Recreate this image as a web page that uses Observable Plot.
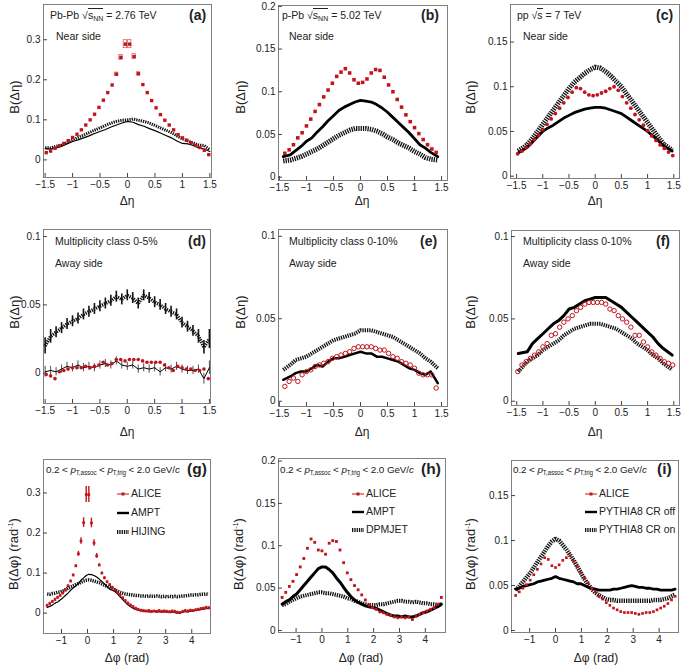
<!DOCTYPE html>
<html><head><meta charset="utf-8">
<script src="https://cdn.jsdelivr.net/npm/d3@7"></script>
<script src="https://cdn.jsdelivr.net/npm/@observablehq/plot@0.6"></script>
<style>
body{margin:0;background:#fff;}
#root{position:relative;width:685px;height:665px;overflow:hidden;font-family:"Liberation Sans",Arial,sans-serif;color:#222}
.p{position:absolute}
.t{position:absolute;white-space:nowrap;font-size:10.5px;line-height:14px}
.b{font-weight:bold;font-size:14px}
.bb{font-weight:bold;font-size:15.5px}
.s{font-size:9.9px;letter-spacing:-0.1px}
.s sub{font-size:6.3px}
.ov{border-top:1px solid #222;padding-top:0px}
.rot{position:absolute;white-space:nowrap;font-size:13px;transform:translate(-50%,-50%) rotate(-90deg)}
.xl{position:absolute;white-space:nowrap;font-size:12px;transform:translate(-50%,-50%)}
sub{font-size:7px;vertical-align:-2px}
sup{font-size:7px;vertical-align:5px}
.sw{display:inline-block;vertical-align:middle;margin-right:2px}
</style></head>
<body><div id="root"></div>
<script>
// ---------- Δη grids ----------
const etaA = [-1.48,-1.40,-1.32,-1.24,-1.16,-1.08,-1.00,-0.92,-0.84,-0.76,-0.68,-0.60,-0.52,-0.44,-0.36,-0.28,-0.20,-0.12,-0.04,0.04,0.12,0.20,0.28,0.36,0.44,0.52,0.60,0.68,0.76,0.84,0.92,1.00,1.08,1.16,1.24,1.32,1.40,1.48];
const etaB = [-1.40,-1.32,-1.24,-1.16,-1.08,-1.00,-0.92,-0.84,-0.76,-0.68,-0.60,-0.52,-0.44,-0.36,-0.28,-0.20,-0.12,-0.04,0.04,0.12,0.20,0.28,0.36,0.44,0.52,0.60,0.68,0.76,0.84,0.92,1.00,1.08,1.16,1.24,1.32,1.40];
const etaL = [-1.5,-1.4,-1.3,-1.2,-1.1,-1.0,-0.9,-0.8,-0.7,-0.6,-0.5,-0.4,-0.3,-0.2,-0.1,0,0.1,0.2,0.3,0.4,0.5,0.6,0.7,0.8,0.9,1.0,1.1,1.2,1.3,1.4,1.5];
const etaM = [-1.43,-1.3,-1.2,-1.1,-1.0,-0.9,-0.8,-0.7,-0.6,-0.5,-0.4,-0.3,-0.2,-0.1,0,0.1,0.2,0.3,0.4,0.5,0.6,0.7,0.8,0.9,1.0,1.1,1.2,1.3,1.43];
const etaN = [-1.47,-1.3,-1.2,-1.1,-1.0,-0.9,-0.8,-0.7,-0.6,-0.5,-0.4,-0.3,-0.2,-0.1,0,0.1,0.2,0.3,0.4,0.5,0.6,0.7,0.8,0.9,1.0,1.1,1.2,1.3,1.47];

// (a) Pb-Pb near side
const aAliceY = [0.018,0.022,0.029,0.035,0.041,0.048,0.056,0.064,0.075,0.087,0.100,0.114,0.131,0.149,0.168,0.187,0.214,0.256,0.289,0.289,0.258,0.215,0.188,0.168,0.148,0.130,0.113,0.099,0.087,0.075,0.063,0.055,0.049,0.043,0.036,0.031,0.024,0.013];
const aAliceE = [0.003,0.003,0.003,0.003,0.003,0.003,0.003,0.003,0.003,0.003,0.003,0.003,0.003,0.003,0.003,0.003,0.004,0.006,0.010,0.010,0.006,0.004,0.003,0.003,0.003,0.003,0.003,0.003,0.003,0.003,0.003,0.003,0.003,0.003,0.003,0.003,0.003,0.003];
const aAmptY = [0.028,0.027,0.030,0.034,0.040,0.046,0.050,0.055,0.060,0.066,0.071,0.076,0.082,0.087,0.092,0.096,0.094,0.088,0.084,0.078,0.073,0.067,0.061,0.055,0.047,0.041,0.040,0.036,0.030,0.027,0.021];
const aHijY = [0.030,0.030,0.034,0.037,0.043,0.050,0.056,0.062,0.068,0.074,0.080,0.086,0.092,0.096,0.099,0.100,0.102,0.099,0.096,0.092,0.086,0.080,0.074,0.068,0.060,0.053,0.047,0.042,0.037,0.036,0.025];
// (b) p-Pb near side
const bAliceY = [0.028,0.032,0.038,0.046,0.052,0.060,0.068,0.077,0.085,0.094,0.102,0.110,0.118,0.123,0.127,0.122,0.114,0.110,0.111,0.115,0.122,0.126,0.125,0.117,0.108,0.100,0.091,0.082,0.073,0.065,0.058,0.051,0.044,0.038,0.033,0.029];
const bAmptY = [0.024,0.026,0.031,0.036,0.042,0.046,0.053,0.059,0.066,0.072,0.078,0.082,0.085,0.088,0.090,0.089,0.088,0.085,0.081,0.076,0.070,0.064,0.058,0.052,0.045,0.038,0.034,0.029,0.024];
const bDpmY = [0.019,0.020,0.022,0.024,0.027,0.030,0.033,0.037,0.041,0.045,0.049,0.052,0.055,0.057,0.057,0.057,0.056,0.054,0.051,0.047,0.044,0.040,0.037,0.034,0.030,0.027,0.023,0.021,0.020];
// (c) pp near side
const cAliceY = [0.025,0.028,0.032,0.036,0.041,0.046,0.052,0.058,0.064,0.070,0.076,0.082,0.088,0.094,0.099,0.098,0.094,0.091,0.090,0.091,0.093,0.095,0.098,0.100,0.096,0.089,0.082,0.076,0.069,0.063,0.057,0.051,0.045,0.040,0.035,0.031,0.027,0.023];
const cOffY = [0.026,0.032,0.038,0.044,0.050,0.054,0.057,0.061,0.065,0.068,0.071,0.073,0.075,0.076,0.077,0.077,0.076,0.074,0.072,0.070,0.066,0.062,0.058,0.054,0.050,0.045,0.040,0.034,0.028];
const cOnY = [0.028,0.035,0.042,0.050,0.058,0.066,0.074,0.082,0.090,0.098,0.105,0.110,0.115,0.119,0.122,0.121,0.117,0.112,0.106,0.100,0.092,0.084,0.076,0.068,0.060,0.052,0.044,0.036,0.029];
// (d) Pb-Pb away side
const dAliceY = [-0.001,-0.002,-0.004,0.001,0.002,0.003,0.004,0.004,0.004,0.005,0.004,0.005,0.006,0.008,0.006,0.007,0.010,0.010,0.009,0.010,0.010,0.010,0.009,0.008,0.008,0.008,0.008,0.006,0.004,0.002,0.005,0.004,0.003,0.003,0.002,0.002,0.003,-0.004];
const dHijY = [0.020,0.027,0.030,0.033,0.036,0.038,0.040,0.043,0.045,0.047,0.049,0.051,0.053,0.056,0.054,0.057,0.055,0.051,0.057,0.055,0.052,0.050,0.047,0.045,0.043,0.037,0.034,0.031,0.027,0.019,0.025];
const dHijE = [0.006,0.005,0.004,0.004,0.004,0.004,0.004,0.004,0.004,0.004,0.004,0.004,0.004,0.004,0.004,0.004,0.004,0.004,0.004,0.004,0.004,0.004,0.004,0.004,0.004,0.004,0.004,0.004,0.005,0.005,0.007];
const dAmptY = [0.001,0.002,0.001,0.003,0.005,0.004,0.006,0.004,0.005,0.004,0.006,0.007,0.006,0.009,0.006,0.005,0.006,0.003,0.004,0.003,0.004,0.001,0.004,0.003,0.005,0.003,0.002,0.002,0.003,-0.004,0.004];
const dAmptE = [0.004,0.003,0.003,0.003,0.003,0.003,0.003,0.003,0.003,0.003,0.003,0.003,0.003,0.003,0.003,0.003,0.003,0.003,0.003,0.003,0.003,0.003,0.003,0.003,0.003,0.003,0.003,0.003,0.003,0.004,0.005];
// (e) p-Pb away side
const eAliceY = [0.009,0.012,0.014,0.012,0.016,0.018,0.019,0.021,0.022,0.023,0.024,0.026,0.027,0.028,0.029,0.030,0.032,0.033,0.033,0.033,0.033,0.032,0.031,0.031,0.029,0.027,0.026,0.024,0.023,0.022,0.020,0.017,0.016,0.016,0.016,0.008];
const eAmptY = [0.013,0.015,0.017,0.018,0.018,0.020,0.022,0.021,0.024,0.026,0.026,0.027,0.028,0.029,0.030,0.029,0.029,0.027,0.027,0.026,0.025,0.024,0.022,0.020,0.019,0.017,0.016,0.018,0.011];
const eDpmY = [0.019,0.022,0.025,0.026,0.027,0.029,0.031,0.033,0.035,0.037,0.038,0.039,0.040,0.041,0.043,0.043,0.043,0.042,0.041,0.040,0.039,0.037,0.035,0.033,0.031,0.029,0.026,0.024,0.020];
// (f) pp away side
const fAliceY = [0.018,0.022,0.024,0.026,0.028,0.030,0.033,0.035,0.040,0.041,0.045,0.048,0.050,0.052,0.055,0.057,0.059,0.060,0.060,0.060,0.060,0.059,0.056,0.055,0.052,0.050,0.048,0.045,0.040,0.040,0.036,0.033,0.030,0.028,0.026,0.024,0.023,0.022];
const fOffY = [0.029,0.030,0.035,0.038,0.041,0.044,0.047,0.049,0.052,0.056,0.057,0.059,0.061,0.062,0.063,0.063,0.063,0.061,0.059,0.057,0.054,0.051,0.048,0.045,0.042,0.039,0.035,0.032,0.028];
const fOnY = [0.018,0.024,0.026,0.028,0.031,0.033,0.035,0.037,0.040,0.042,0.044,0.045,0.046,0.047,0.047,0.047,0.046,0.045,0.044,0.042,0.040,0.038,0.035,0.033,0.031,0.028,0.026,0.023,0.019];

// ---------- Δφ grids ----------
const phiG = [-1.55,-1.45,-1.35,-1.25,-1.15,-1.05,-0.95,-0.85,-0.75,-0.65,-0.55,-0.45,-0.35,-0.25,-0.15,-0.05,0.05,0.15,0.25,0.35,0.45,0.55,0.65,0.75,0.85,0.95,1.05,1.15,1.25,1.35,1.45,1.55,1.65,1.75,1.85,1.95,2.05,2.15,2.25,2.35,2.45,2.55,2.65,2.75,2.85,2.95,3.05,3.15,3.25,3.35,3.45,3.55,3.65,3.75,3.85,3.95,4.05,4.15,4.25,4.35,4.45,4.55,4.65];
const phiH = [-1.54,-1.40,-1.26,-1.12,-0.98,-0.84,-0.70,-0.56,-0.42,-0.28,-0.14,0,0.14,0.28,0.42,0.56,0.70,0.84,0.98,1.12,1.26,1.40,1.54,1.68,1.82,1.96,2.10,2.24,2.38,2.52,2.66,2.80,2.94,3.08,3.22,3.36,3.50,3.64,3.78,3.92,4.06,4.20,4.34,4.48,4.62];
// (g) Pb-Pb
const gAliceY = [0.019,0.024,0.029,0.034,0.039,0.044,0.050,0.058,0.068,0.080,0.095,0.118,0.148,0.180,0.226,0.296,0.296,0.225,0.175,0.143,0.120,0.100,0.088,0.078,0.071,0.064,0.058,0.051,0.045,0.038,0.031,0.025,0.020,0.016,0.012,0.009,0.007,0.006,0.005,0.006,0.004,0.005,0.004,0.006,0.004,0.005,0.004,0.003,0.005,0.004,0.002,0.001,0.004,0.006,0.005,0.007,0.006,0.008,0.009,0.011,0.012,0.014,0.013];
const gAliceE = [0.003,0.003,0.003,0.003,0.003,0.003,0.003,0.003,0.003,0.003,0.003,0.003,0.006,0.008,0.012,0.020,0.020,0.012,0.008,0.006,0.003,0.003,0.003,0.003,0.003,0.003,0.003,0.003,0.003,0.003,0.003,0.003,0.003,0.003,0.003,0.003,0.003,0.003,0.003,0.003,0.003,0.003,0.003,0.003,0.003,0.003,0.003,0.003,0.003,0.003,0.003,0.003,0.003,0.003,0.003,0.003,0.003,0.003,0.003,0.003,0.003,0.003,0.003];
const gAmptY = [0.014,0.017,0.020,0.025,0.028,0.033,0.038,0.044,0.050,0.057,0.063,0.068,0.074,0.082,0.088,0.094,0.097,0.096,0.094,0.090,0.085,0.079,0.073,0.066,0.060,0.057,0.054,0.048,0.041,0.034,0.027,0.021,0.016,0.012,0.009,0.007,0.006,0.004,0.005,0.003,0.004,0.005,0.003,0.004,0.003,0.004,0.003,0.002,0.003,0.001,0.000,0.001,0.002,0.004,0.003,0.005,0.006,0.007,0.008,0.009,0.010,0.011,0.012];
const gHijY = [0.048,0.047,0.049,0.050,0.052,0.053,0.055,0.058,0.062,0.065,0.068,0.071,0.074,0.077,0.080,0.082,0.083,0.082,0.080,0.078,0.076,0.073,0.070,0.067,0.064,0.062,0.058,0.055,0.052,0.050,0.048,0.047,0.046,0.045,0.044,0.044,0.043,0.043,0.042,0.043,0.042,0.042,0.043,0.042,0.041,0.042,0.041,0.042,0.041,0.042,0.041,0.042,0.043,0.043,0.044,0.045,0.045,0.046,0.046,0.047,0.047,0.048,0.047];
// (h) p-Pb
const hAliceY = [0.039,0.045,0.052,0.058,0.066,0.075,0.085,0.097,0.108,0.104,0.095,0.094,0.090,0.103,0.106,0.105,0.095,0.080,0.068,0.060,0.053,0.048,0.042,0.036,0.030,0.027,0.025,0.022,0.021,0.019,0.018,0.016,0.015,0.016,0.015,0.016,0.013,0.017,0.019,0.021,0.023,0.025,0.027,0.031,0.039];
const hAmptY = [0.031,0.034,0.036,0.040,0.043,0.048,0.053,0.058,0.063,0.068,0.073,0.075,0.075,0.072,0.068,0.062,0.057,0.051,0.045,0.040,0.036,0.033,0.031,0.029,0.028,0.027,0.026,0.024,0.022,0.020,0.018,0.017,0.017,0.016,0.017,0.016,0.016,0.017,0.019,0.021,0.022,0.024,0.026,0.028,0.031];
const hDpmY = [0.030,0.031,0.034,0.036,0.038,0.040,0.041,0.042,0.043,0.044,0.045,0.045,0.044,0.044,0.043,0.042,0.041,0.040,0.038,0.037,0.035,0.034,0.032,0.031,0.030,0.030,0.030,0.031,0.031,0.032,0.033,0.034,0.035,0.035,0.034,0.034,0.033,0.034,0.033,0.032,0.032,0.031,0.031,0.030,0.031];
// (i) pp
const iAliceY = [0.039,0.043,0.047,0.051,0.056,0.062,0.068,0.074,0.081,0.079,0.072,0.070,0.073,0.078,0.081,0.083,0.077,0.071,0.064,0.058,0.053,0.047,0.043,0.038,0.035,0.031,0.028,0.025,0.023,0.021,0.020,0.020,0.020,0.019,0.018,0.019,0.020,0.020,0.021,0.023,0.025,0.027,0.030,0.034,0.038];
const iOffY = [0.046,0.047,0.049,0.050,0.051,0.052,0.054,0.055,0.056,0.057,0.058,0.060,0.058,0.057,0.056,0.055,0.054,0.052,0.052,0.050,0.048,0.047,0.046,0.045,0.045,0.045,0.045,0.046,0.046,0.047,0.048,0.049,0.050,0.049,0.048,0.048,0.047,0.047,0.046,0.046,0.045,0.045,0.045,0.045,0.046];
const iOnY = [0.045,0.049,0.054,0.059,0.064,0.070,0.076,0.082,0.088,0.094,0.099,0.102,0.100,0.095,0.090,0.084,0.078,0.071,0.064,0.057,0.051,0.046,0.042,0.039,0.037,0.035,0.034,0.034,0.033,0.033,0.033,0.033,0.033,0.033,0.033,0.033,0.033,0.033,0.034,0.034,0.034,0.035,0.036,0.038,0.040];

// ---------- ticks ----------
const etaTicks = [-1.5,-1,-0.5,0,0.5,1,1.5];
const phiTicks = [-1,0,1,2,3,4];

// ---------- helpers ----------
const RED = "#c0141c";
const FONT = '"Liberation Sans", Arial, sans-serif';
const root = document.getElementById("root");
const zip = (xs, ys, es) => xs.map((x, i) => ({x, y: ys[i], e: es ? es[i] : 0}));
const fmt = d => (d < 0 ? "\u2212" + (-d) : String(d));
const X = d => d.x, Y = d => d.y;

function hatched(data, w) {
  return Plot.line(data, {x: X, y: Y, stroke: "#111", strokeWidth: w, strokeDasharray: "1.3,1", strokeLinecap: "butt", strokeLinejoin: "miter"});
}
function solid(data, w) {
  return Plot.line(data, {x: X, y: Y, stroke: "#000", strokeWidth: w});
}
function errs(data, color, w) {
  return Plot.ruleX(data, {x: X, y1: d => d.y - d.e, y2: d => d.y + d.e, stroke: color, strokeWidth: w});
}

function panel(o) {
  const mL = 46, mR = 4, mT = 4, mB = 34;
  const svg = Plot.plot({
    width: o.R - o.L + mL + mR, height: o.B - o.T + mT + mB,
    marginLeft: mL, marginRight: mR, marginTop: mT, marginBottom: mB,
    style: {fontFamily: FONT, fontSize: "10px", color: "#222", background: "none", overflow: "visible"},
    x: {domain: o.xd}, y: {domain: o.yd},
    marks: [
      Plot.frame({stroke: "#808080", strokeWidth: 1}),
      ...o.marks,
      Plot.axisX({ticks: o.xt, tickFormat: fmt, tickSize: -4, tickPadding: 7, label: null, stroke: "#444"}),
      Plot.axisY({ticks: o.yt, tickFormat: fmt, tickSize: -4, tickPadding: 7, label: null, stroke: "#444"})
    ]
  });
  svg.classList.add("p");
  svg.style.left = (o.L - mL) + "px";
  svg.style.top = (o.T - mT) + "px";
  root.appendChild(svg);
}
function txt(left, cy, html, cls) {
  const d = document.createElement("div");
  d.className = "t" + (cls ? " " + cls : "");
  d.style.left = left + "px";
  d.style.top = (cy - 7) + "px";
  d.innerHTML = html;
  root.appendChild(d);
}
function ylab(cx, cy, html) {
  const d = document.createElement("div");
  d.className = "rot"; d.style.left = cx + "px"; d.style.top = cy + "px"; d.innerHTML = html;
  root.appendChild(d);
}
function xlab(cx, cy, html) {
  const d = document.createElement("div");
  d.className = "xl"; d.style.left = cx + "px"; d.style.top = cy + "px"; d.innerHTML = html;
  root.appendChild(d);
}
function swatch(kind) {
  if (kind === "alice") return `<svg class="sw" width="12" height="8"><line x1="0" x2="12" y1="4" y2="4" stroke="${RED}" stroke-width="1"/><rect x="4.5" y="2.5" width="3" height="3" fill="${RED}"/></svg>`;
  if (kind === "solid") return `<svg class="sw" width="12" height="8"><line x1="0" x2="12" y1="4" y2="4" stroke="#000" stroke-width="2.4"/></svg>`;
  return `<svg class="sw" width="12" height="8"><line x1="0" x2="12" y1="4" y2="4" stroke="#111" stroke-width="4" stroke-dasharray="1.3,1"/></svg>`;
}

// ---------- Row 1 ----------
const aAlice = zip(etaA, aAliceY, aAliceE);
panel({L: 43, T: 4, R: 211, B: 177, xd: [-1.53, 1.53], yd: [-0.044, 0.388], xt: etaTicks, yt: [0, 0.1, 0.2, 0.3], marks: [
  hatched(zip(etaL, aHijY), 3),
  solid(zip(etaL, aAmptY), 1.2),
  Plot.rect(aAlice.filter(d => d.e > 0.003), {x1: d => d.x - 0.03, x2: d => d.x + 0.03, y1: d => d.y - d.e, y2: d => d.y + d.e, stroke: "#d86060", fill: "none", strokeWidth: 0.8}),
  Plot.dot(aAlice, {x: X, y: Y, symbol: "square", r: 1.9, fill: RED})
]});
panel({L: 278, T: 5, R: 447, B: 180, xd: [-1.517, 1.61], yd: [-0.0039, 0.201], xt: etaTicks, yt: [0, 0.05, 0.1, 0.15, 0.2], marks: [
  hatched(zip(etaM, bDpmY), 5),
  solid(zip(etaM, bAmptY), 2.8),
  Plot.dot(zip(etaB, bAliceY), {x: X, y: Y, symbol: "square", r: 2, fill: RED})
]});
panel({L: 510, T: 4, R: 679, B: 178, xd: [-1.616, 1.609], yd: [-0.0026, 0.192], xt: etaTicks, yt: [0, 0.05, 0.1, 0.15], marks: [
  hatched(zip(etaN, cOnY), 5),
  solid(zip(etaN, cOffY), 2.8),
  Plot.dot(zip(etaA, cAliceY), {x: X, y: Y, r: 1.9, fill: RED})
]});
// ---------- Row 2 ----------
panel({L: 43, T: 229, R: 210, B: 403, xd: [-1.53, 1.52], yd: [-0.0222, 0.1052], xt: etaTicks, yt: [0, 0.05, 0.1], marks: [
  errs(zip(etaL, dHijY, dHijE), "#111", 1.6),
  hatched(zip(etaL, dHijY), 3.5),
  errs(zip(etaL, dAmptY, dAmptE), "#222", 0.8),
  solid(zip(etaL, dAmptY), 1),
  Plot.dot(zip(etaA, dAliceY), {x: X, y: Y, r: 1.8, fill: RED})
]});
panel({L: 278, T: 229, R: 447, B: 406, xd: [-1.517, 1.61], yd: [-0.0032, 0.1041], xt: etaTicks, yt: [0, 0.05, 0.1], marks: [
  hatched(zip(etaM, eDpmY), 4),
  solid(zip(etaM, eAmptY), 2.5),
  Plot.dot(zip(etaB, eAliceY), {x: X, y: Y, r: 2.2, stroke: RED, strokeWidth: 1, fill: "none"})
]});
panel({L: 511, T: 230, R: 679, B: 405, xd: [-1.60, 1.609], yd: [-0.0026, 0.1037], xt: etaTicks, yt: [0, 0.05, 0.1], marks: [
  hatched(zip(etaN, fOnY), 4),
  solid(zip(etaN, fOffY), 3),
  Plot.dot(zip(etaA, fAliceY), {x: X, y: Y, r: 2.2, stroke: RED, strokeWidth: 1, fill: "none"})
]});
// ---------- Row 3 ----------
const gAlice = zip(phiG, gAliceY, gAliceE);
panel({L: 43, T: 459, R: 210, B: 633, xd: [-1.69, 4.72], yd: [-0.0508, 0.3835], xt: phiTicks, yt: [0, 0.1, 0.2, 0.3], marks: [
  hatched(zip(phiG, gHijY), 3.5),
  solid(zip(phiG, gAmptY), 1.2),
  errs(gAlice, RED, 1.4),
  Plot.dot(gAlice, {x: X, y: Y, symbol: "square", r: 1.5, fill: RED})
]});
panel({L: 278, T: 458, R: 445, B: 632, xd: [-1.68, 4.78], yd: [-0.0024, 0.203], xt: phiTicks, yt: [0, 0.05, 0.1, 0.15, 0.2], marks: [
  hatched(zip(phiH, hDpmY), 4),
  solid(zip(phiH, hAmptY), 3),
  Plot.dot(zip(phiH, hAliceY), {x: X, y: Y, symbol: "square", r: 1.6, fill: RED})
]});
panel({L: 511, T: 460, R: 678, B: 632, xd: [-1.70, 4.75], yd: [-0.0022, 0.189], xt: phiTicks, yt: [0, 0.05, 0.1, 0.15], marks: [
  hatched(zip(phiH, iOnY), 4.5),
  solid(zip(phiH, iOffY), 2.8),
  Plot.dot(zip(phiH, iAliceY), {x: X, y: Y, symbol: "square", r: 1.5, fill: RED})
]});

// ---------- annotations ----------
const sNN = '\u221A<span class="ov">s<sub>NN</sub></span>';
txt(50, 15, 'Pb-Pb ' + sNN + ' = 2.76 TeV');
txt(56, 36, 'Near side', "");
txt(189, 15, '(a)', "b");
txt(282, 15, 'p-Pb ' + sNN + ' = 5.02 TeV');
txt(289, 36, 'Near side');
txt(421, 15, '(b)', "b");
txt(517, 15, 'pp \u221A<span class="ov">s</span> = 7 TeV');
txt(523, 36, 'Near side');
txt(656, 15, '(c)', "b");

txt(55, 241, 'Multiplicity class 0-5%');
txt(55, 263, 'Away side');
txt(188, 241, '(d)', "b");
txt(289, 241, 'Multiplicity class 0-10%');
txt(289, 263, 'Away side');
txt(420, 241, '(e)', "b");
txt(523, 241, 'Multiplicity class 0-10%');
txt(523, 263, 'Away side');
txt(656, 241, '(f)', "b");

const ptRange = '0.2 &lt; <i>p</i><sub>T,assoc</sub> &lt; <i>p</i><sub>T,trig</sub> &lt; 2.0 GeV/<i>c</i>';
txt(46, 470, ptRange, "s");
txt(187, 469, '(g)', "bb");
txt(280, 470, ptRange, "s");
txt(421, 469, '(h)', "bb");
txt(513, 470, ptRange, "s");
txt(657, 469, '(i)', "bb");

txt(117, 493, swatch("alice") + 'ALICE');
txt(117, 512, swatch("solid") + 'AMPT');
txt(117, 531, swatch("hatch") + 'HIJING');
txt(352, 493, swatch("alice") + 'ALICE');
txt(352, 511, swatch("solid") + 'AMPT');
txt(352, 529, swatch("hatch") + 'DPMJET');
txt(585, 493, swatch("alice") + 'ALICE');
txt(585, 511, swatch("solid") + 'PYTHIA8 CR off');
txt(585, 529, swatch("hatch") + 'PYTHIA8 CR on');

// axis titles
ylab(14, 97, 'B(\u0394\u03B7)'); ylab(240, 97, 'B(\u0394\u03B7)'); ylab(470, 97, 'B(\u0394\u03B7)');
ylab(14, 312, 'B(\u0394\u03B7)'); ylab(240, 312, 'B(\u0394\u03B7)'); ylab(470, 312, 'B(\u0394\u03B7)');
ylab(13, 554, 'B(\u0394\u03C6) (rad<sup>-1</sup>)'); ylab(238, 554, 'B(\u0394\u03C6) (rad<sup>-1</sup>)'); ylab(470, 554, 'B(\u0394\u03C6) (rad<sup>-1</sup>)');
xlab(127, 201, '\u0394\u03B7'); xlab(362, 201, '\u0394\u03B7'); xlab(595, 201, '\u0394\u03B7');
xlab(127, 432, '\u0394\u03B7'); xlab(362, 432, '\u0394\u03B7'); xlab(595, 432, '\u0394\u03B7');
xlab(127, 658, '\u0394\u03C6 (rad)'); xlab(361, 658, '\u0394\u03C6 (rad)'); xlab(596, 658, '\u0394\u03C6 (rad)');
</script>
</body></html>
